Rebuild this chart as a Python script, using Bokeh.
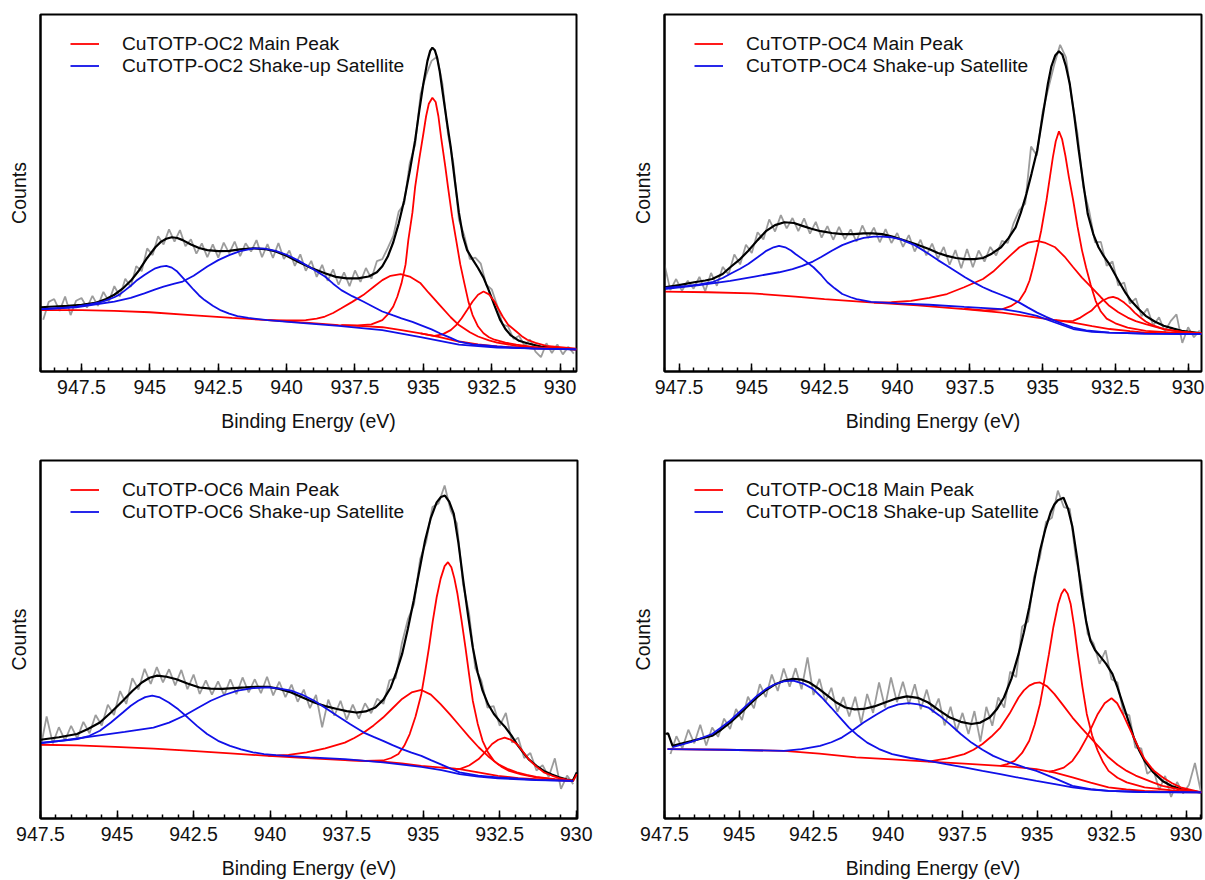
from bokeh.plotting import figure
from bokeh.models import (Range1d, SingleIntervalTicker, NumeralTickFormatter,
                          FixedTicker, Legend, LegendItem)
from bokeh.layouts import gridplot
from bokeh.embed import file_html
from bokeh.resources import INLINE

# ---------------- data (y = relative counts, % of panel height) ----------------
# Panel A: CuTOTP-OC2
A_BG_X = [949.0, 947.5, 946.3, 945.0, 943.5, 942.0, 940.7, 939.3, 938.1, 937.2, 936.5, 935.8, 935.1, 934.4, 933.7, 933.0, 932.3, 931.5, 931.0, 929.4]
A_BG_Y = [17.2, 17.2, 17.0, 16.6, 15.8, 15.0, 14.4, 13.7, 13.0, 12.7, 12.4, 11.6, 10.7, 9.6, 8.4, 7.6, 7.0, 6.7, 6.5, 6.2]
A_R1_X = [938.0, 937.4, 936.9, 936.5, 936.3, 936.1, 935.95, 935.8, 935.65, 935.55, 935.4, 935.3, 935.15, 935.0, 934.9, 934.8, 934.67, 934.55, 934.45, 934.35, 934.2, 934.1, 933.95, 933.8, 933.65, 933.5, 933.35, 933.2, 933.0, 932.8, 932.6, 932.4, 932.0, 931.6, 930.8, 929.4]
A_R1_Y = [13.0, 12.9, 13.2, 14.4, 16.0, 18.2, 21.0, 24.7, 30.0, 36.8, 44.5, 51.7, 59.5, 66.6, 71.5, 75.0, 76.7, 75.5, 71.5, 65.5, 57.5, 51.7, 43.5, 36.8, 30.0, 24.7, 19.5, 15.8, 12.6, 10.7, 9.6, 8.9, 8.1, 7.5, 6.7, 6.2]
A_R2_X = [940.7, 940.0, 939.3, 938.9, 938.6, 938.3, 938.0, 937.6, 937.2, 936.8, 936.5, 936.2, 935.83, 935.5, 935.1, 934.8, 934.4, 934.0, 933.7, 933.3, 933.0, 932.6, 932.3, 931.6, 931.0, 929.4]
A_R2_Y = [14.4, 14.3, 14.4, 14.8, 15.4, 16.4, 17.7, 19.5, 21.4, 23.8, 25.6, 26.8, 27.3, 26.6, 24.7, 22.0, 18.6, 15.2, 13.0, 11.0, 9.8, 8.7, 8.1, 7.2, 6.8, 6.2]
A_R3_X = [935.1, 934.6, 934.3, 934.0, 933.8, 933.6, 933.4, 933.2, 933.0, 932.8, 932.6, 932.4, 932.25, 932.1, 931.9, 931.6, 931.4, 931.2, 930.9, 930.5, 929.4]
A_R3_Y = [10.7, 10.0, 10.4, 11.6, 13.0, 14.9, 17.2, 19.6, 21.5, 22.4, 21.6, 19.6, 17.5, 15.4, 13.1, 11.2, 9.9, 8.9, 8.0, 7.2, 6.4]
A_B1_X = [949.0, 948.2, 947.7, 947.2, 946.8, 946.6, 946.3, 946.1, 945.9, 945.7, 945.5, 945.2, 945.0, 944.8, 944.6, 944.4, 944.2, 944.0, 943.8, 943.6, 943.4, 943.2, 943.0, 942.7, 942.4, 942.1, 941.8, 941.4, 940.7, 939.5, 938.1, 936.5, 935.1, 933.7, 932.3, 929.4]
A_B1_Y = [17.5, 17.8, 18.2, 18.8, 19.4, 19.9, 20.8, 21.6, 22.8, 24.0, 25.4, 27.0, 28.0, 28.9, 29.4, 29.6, 29.1, 28.0, 26.3, 24.6, 22.9, 21.3, 20.0, 18.4, 17.1, 16.2, 15.5, 15.0, 14.4, 13.6, 12.8, 11.6, 9.6, 7.5, 6.7, 6.2]
A_B2_X = [949.0, 947.7, 946.3, 945.7, 945.2, 944.8, 944.5, 944.1, 943.8, 943.4, 942.9, 942.5, 942.1, 941.7, 941.2, 940.8, 940.4, 940.0, 939.6, 939.1, 938.6, 938.3, 938.0, 937.6, 937.2, 936.8, 936.5, 936.1, 935.8, 935.4, 935.1, 934.7, 934.4, 934.0, 933.7, 933.2, 932.3, 931.0, 929.4]
A_B2_Y = [17.4, 18.0, 19.6, 20.6, 21.9, 23.0, 23.8, 24.6, 25.2, 26.8, 29.4, 31.2, 32.6, 33.7, 34.5, 34.4, 33.8, 32.7, 31.2, 29.0, 26.6, 24.6, 22.8, 21.1, 19.6, 18.0, 16.8, 15.7, 14.9, 13.9, 13.0, 11.8, 10.7, 9.4, 8.4, 7.6, 7.0, 6.4, 6.2]
A_ENV_X = [949.0, 948.5, 948.0, 947.5, 947.0, 946.6, 946.3, 946.0, 945.7, 945.4, 945.1, 944.8, 944.6, 944.4, 944.2, 944.0, 943.8, 943.5, 943.2, 942.9, 942.5, 942.1, 941.7, 941.2, 940.8, 940.4, 940.0, 939.6, 939.1, 938.6, 938.2, 937.8, 937.4, 937.0, 936.7, 936.5, 936.3, 936.1, 935.9, 935.7, 935.5, 935.3, 935.15, 935.0, 934.85, 934.75, 934.67, 934.58, 934.5, 934.4, 934.3, 934.15, 934.0, 933.85, 933.7, 933.55, 933.4, 933.2, 933.0, 932.8, 932.6, 932.4, 932.2, 932.0, 931.8, 931.5, 931.2, 930.7, 930.0, 929.4]
A_ENV_Y = [18.0, 18.2, 18.4, 18.7, 19.2, 20.3, 21.5, 23.2, 25.4, 28.3, 31.8, 34.8, 36.3, 37.2, 37.6, 37.4, 36.8, 35.6, 34.6, 34.0, 33.7, 33.8, 34.2, 34.5, 34.3, 33.6, 32.4, 30.8, 29.0, 27.5, 26.5, 26.1, 26.1, 26.6, 27.8, 29.5, 32.2, 36.2, 41.5, 48.0, 56.0, 64.8, 73.0, 80.6, 87.0, 89.8, 90.7, 90.0, 88.0, 84.0, 78.5, 70.5, 62.9, 53.5, 44.5, 37.8, 34.0, 31.4, 29.0, 26.3, 22.6, 18.5, 14.6, 11.9, 10.1, 8.6, 7.9, 7.0, 6.5, 6.2]
A_RAW_START = 948.9
A_RAW_Y = [14.5, 19.5, 20.3, 17.0, 21.0, 15.8, 19.8, 20.6, 17.9, 21.2, 18.4, 22.3, 19.6, 23.9, 21.0, 26.0,
           23.7, 29.5, 28.1, 34.5, 32.6, 37.9, 35.6, 39.8, 36.4, 39.6, 35.1, 37.0, 33.0, 35.9, 32.0, 35.6,
           31.9, 36.1, 33.1, 36.4, 32.3, 35.9, 33.6, 36.8, 32.0, 35.7, 31.8, 36.0, 31.5, 33.9, 29.6, 32.8,
           28.2, 31.0, 26.5, 29.9, 25.4, 28.6, 24.3, 27.8, 23.9, 28.3, 25.1, 29.0, 26.0, 30.9, 31.5, 34.6,
           38.0, 44.8, 47.0, 58.3, 63.5, 77.8, 83.0, 87.0, 88.2, 80.5, 66.5, 58.2, 42.5, 38.0, 31.5, 31.9,
           30.2, 24.3, 23.0, 18.5, 13.2, 12.6, 9.1, 10.0, 7.2, 8.9, 5.6, 4.0, 7.9, 5.2, 7.6, 4.8, 6.9, 5.0]

# Panel B: CuTOTP-OC4
B_BG_X = [948.0, 946.5, 945.0, 943.5, 942.5, 940.8, 939.3, 937.7, 936.4, 935.2, 934.5, 933.95, 933.3, 932.7, 932.0, 931.5, 930.5, 929.54]
B_BG_Y = [22.4, 22.2, 21.9, 21.0, 20.3, 19.3, 18.5, 17.5, 16.5, 15.1, 14.3, 13.7, 12.7, 11.9, 11.3, 10.9, 10.7, 10.7]
B_R1_X = [937.7, 937.0, 936.4, 936.1, 935.81, 935.6, 935.45, 935.33, 935.2, 935.05, 934.87, 934.75, 934.65, 934.55, 934.44, 934.33, 934.22, 934.1, 933.95, 933.8, 933.65, 933.51, 933.35, 933.18, 933.0, 932.8, 932.5, 932.08, 931.46, 930.5, 929.54]
B_R1_Y = [17.6, 17.1, 17.4, 18.3, 19.8, 22.5, 25.5, 29.2, 33.8, 39.5, 47.9, 54.5, 60.0, 64.5, 67.3, 65.0, 60.5, 54.5, 47.9, 40.5, 34.0, 29.2, 24.3, 19.8, 16.8, 14.8, 13.5, 12.3, 11.4, 10.9, 10.7]
B_R2_X = [940.8, 940.2, 939.53, 938.9, 938.29, 937.7, 937.05, 936.7, 936.43, 936.1, 935.8, 935.5, 935.19, 934.9, 934.57, 934.25, 933.95, 933.65, 933.33, 933.0, 932.71, 932.4, 932.08, 931.8, 931.46, 930.84, 930.2, 929.54]
B_R2_Y = [19.3, 19.4, 19.8, 20.6, 21.7, 23.6, 25.9, 28.0, 30.1, 32.6, 34.8, 36.1, 36.6, 36.0, 34.8, 32.2, 29.2, 26.3, 23.6, 20.8, 18.4, 16.6, 15.1, 14.1, 13.3, 11.9, 11.1, 10.7]
B_R3_X = [934.57, 934.2, 933.95, 933.7, 933.5, 933.33, 933.15, 932.95, 932.75, 932.58, 932.4, 932.2, 932.0, 931.84, 931.65, 931.46, 931.2, 930.84, 930.5, 930.22, 929.54]
B_R3_Y = [14.4, 14.1, 14.2, 15.1, 16.2, 17.0, 18.5, 19.8, 20.6, 20.9, 20.4, 19.3, 17.9, 16.5, 15.2, 14.0, 12.9, 11.9, 11.4, 11.1, 10.7]
B_B1_X = [948.0, 947.2, 946.8, 946.36, 946.0, 945.7, 945.4, 945.12, 944.8, 944.5, 944.25, 944.06, 943.85, 943.65, 943.5, 943.2, 942.88, 942.6, 942.4, 942.15, 941.89, 941.6, 941.4, 940.9, 940.0, 938.9, 937.7, 936.4, 935.8, 935.2, 934.6, 933.95, 933.3, 932.71, 931.5, 929.54]
B_B1_Y = [23.4, 24.0, 24.4, 25.0, 26.2, 27.5, 28.8, 30.1, 32.0, 33.8, 34.8, 35.2, 34.8, 33.9, 32.9, 31.2, 29.2, 26.9, 25.0, 23.3, 21.7, 20.8, 20.3, 19.5, 19.1, 18.7, 18.1, 17.5, 16.7, 15.6, 13.8, 11.9, 11.1, 10.9, 10.6, 10.5]
B_B2_X = [948.0, 946.8, 945.74, 944.9, 944.06, 943.6, 943.26, 942.9, 942.63, 942.25, 941.89, 941.5, 941.15, 940.8, 940.52, 940.2, 939.9, 939.4, 938.91, 938.6, 938.29, 937.98, 937.67, 937.35, 937.05, 936.75, 936.43, 936.1, 935.8, 935.5, 935.19, 934.88, 934.57, 934.25, 933.95, 933.5, 932.71, 931.5, 929.54]
B_B2_Y = [23.1, 24.2, 25.4, 26.6, 27.8, 28.7, 29.6, 30.8, 32.0, 33.8, 35.4, 36.6, 37.4, 37.8, 37.8, 37.6, 37.1, 35.4, 32.9, 31.2, 29.6, 28.0, 26.4, 24.9, 23.6, 22.5, 21.5, 20.4, 19.3, 17.9, 16.5, 15.3, 14.2, 13.2, 12.3, 11.5, 10.9, 10.6, 10.5]
B_ENV_X = [948.0, 947.5, 946.98, 946.6, 946.36, 946.0, 945.74, 945.4, 945.12, 944.8, 944.5, 944.2, 943.88, 943.55, 943.26, 942.95, 942.63, 942.25, 941.89, 941.5, 941.15, 940.85, 940.52, 940.2, 939.9, 939.4, 938.91, 938.6, 938.29, 937.98, 937.67, 937.35, 937.05, 936.75, 936.43, 936.18, 935.93, 935.75, 935.56, 935.38, 935.19, 935.0, 934.82, 934.7, 934.57, 934.44, 934.32, 934.2, 934.07, 933.92, 933.76, 933.6, 933.45, 933.26, 933.08, 932.9, 932.71, 932.52, 932.33, 932.15, 931.96, 931.7, 931.46, 931.15, 930.84, 930.5, 930.22, 929.54]
B_ENV_Y = [23.6, 24.2, 25.0, 25.5, 25.9, 27.3, 29.2, 31.5, 33.8, 36.8, 39.4, 41.0, 41.8, 41.6, 40.8, 40.0, 39.3, 38.8, 38.5, 38.5, 38.7, 38.7, 38.5, 37.9, 37.1, 35.8, 34.3, 33.2, 32.4, 31.8, 31.5, 31.5, 31.8, 33.0, 34.8, 37.3, 40.4, 44.5, 49.7, 55.5, 61.9, 71.5, 80.6, 85.5, 88.5, 89.7, 88.7, 85.5, 80.6, 72.0, 61.9, 52.5, 44.1, 38.5, 34.8, 32.3, 30.1, 27.3, 24.5, 22.0, 19.8, 17.5, 15.6, 14.0, 12.8, 12.0, 11.4, 10.7]
B_RAW_START = 948.0
B_RAW_Y = [30.0, 22.8, 25.9, 22.6, 25.4, 23.2, 26.5, 22.5, 27.6, 24.0, 29.3, 27.2, 32.8, 30.0, 35.5, 33.2,
           39.0, 37.0, 42.6, 39.2, 43.8, 40.1, 43.0, 39.3, 42.9, 38.6, 41.9, 37.5, 40.7, 36.9, 40.5, 37.0,
           39.8, 36.4, 40.9, 37.4, 40.3, 36.2, 39.9, 36.0, 38.8, 34.9, 38.2, 33.6, 36.9, 32.5, 35.8, 31.6,
           34.9, 29.9, 34.0, 28.9, 34.3, 29.2, 33.9, 30.8, 34.9, 32.5, 36.6, 36.0, 41.5, 45.2, 47.0, 63.0,
           60.5, 72.8, 79.5, 86.0, 91.5, 88.0, 76.5, 66.5, 51.5, 44.9, 36.2, 36.3, 29.6, 30.8, 24.1, 24.9,
           19.0, 20.5, 15.5, 17.6, 12.9, 15.2, 11.2, 14.1, 16.0, 8.0, 12.4, 9.6, 11.5]

# Panel C: CuTOTP-OC6
C_BG_X = [947.5, 946.3, 945.06, 943.8, 942.56, 941.3, 940.06, 938.8, 937.56, 936.31, 935.7, 935.06, 934.4, 933.81, 933.2, 932.56, 931.9, 931.31, 930.7, 930.1, 929.98]
C_BG_Y = [20.6, 20.4, 20.0, 19.5, 18.9, 18.2, 17.5, 16.9, 16.3, 15.9, 15.4, 14.7, 14.2, 13.8, 12.9, 11.9, 11.3, 11.0, 10.7, 10.5, 12.4]
C_R1_X = [937.56, 936.9, 936.31, 936.05, 935.81, 935.62, 935.44, 935.25, 935.06, 934.94, 934.81, 934.69, 934.56, 934.43, 934.3, 934.19, 934.08, 933.98, 933.88, 933.75, 933.62, 933.5, 933.38, 933.22, 933.06, 932.88, 932.69, 932.45, 932.19, 931.8, 931.31, 930.7, 930.1]
C_R1_Y = [16.3, 16.1, 16.2, 16.9, 18.0, 20.3, 23.6, 28.5, 34.8, 40.8, 47.8, 55.0, 61.8, 67.0, 70.5, 71.6, 70.2, 67.0, 62.7, 55.5, 47.8, 40.2, 32.9, 26.5, 21.7, 18.4, 16.1, 14.5, 13.3, 12.3, 11.5, 10.9, 10.5]
C_R2_X = [940.06, 939.4, 938.81, 938.2, 937.56, 937.25, 936.94, 936.62, 936.31, 936.0, 935.69, 935.38, 935.06, 934.75, 934.44, 934.12, 933.81, 933.5, 933.19, 932.88, 932.56, 932.25, 931.94, 931.62, 931.31, 930.7, 930.1]
C_R2_Y = [17.5, 17.8, 18.5, 19.6, 21.2, 22.5, 24.0, 26.0, 28.2, 30.8, 33.4, 35.2, 35.9, 34.6, 32.0, 29.0, 25.9, 22.8, 19.9, 17.4, 15.2, 13.9, 12.9, 12.2, 11.6, 11.0, 10.5]
C_R3_X = [934.4, 934.1, 933.81, 933.5, 933.19, 932.97, 932.75, 932.55, 932.34, 932.14, 931.94, 931.75, 931.56, 931.3, 931.06, 930.8, 930.56, 930.1]
C_R3_Y = [14.3, 14.0, 13.8, 14.8, 16.6, 18.6, 20.8, 22.0, 22.6, 22.0, 20.8, 18.8, 16.6, 14.5, 12.9, 12.0, 11.3, 10.5]
C_B1_X = [947.5, 946.9, 946.3, 945.9, 945.56, 945.2, 944.81, 944.55, 944.31, 944.08, 943.85, 943.6, 943.31, 943.0, 942.69, 942.38, 942.06, 941.7, 941.31, 940.95, 940.56, 940.2, 939.81, 938.7, 937.56, 936.31, 935.06, 934.4, 933.81, 933.2, 932.56, 931.31, 930.1]
C_B1_Y = [21.2, 21.6, 22.2, 23.1, 24.5, 26.8, 29.6, 31.5, 32.9, 33.9, 34.3, 33.8, 32.4, 30.5, 28.2, 25.8, 23.6, 21.7, 20.3, 19.3, 18.5, 18.0, 17.7, 17.1, 16.6, 15.7, 14.4, 13.5, 12.4, 11.7, 11.2, 10.7, 10.5]
C_B2_X = [947.5, 946.6, 945.69, 944.75, 943.81, 943.3, 942.81, 942.38, 941.94, 941.5, 941.06, 940.56, 940.06, 939.68, 939.31, 938.93, 938.56, 938.18, 937.81, 937.38, 936.94, 936.62, 936.31, 936.0, 935.69, 935.38, 935.06, 934.75, 934.44, 934.12, 933.81, 933.2, 932.56, 931.31, 930.1]
C_B2_Y = [21.0, 22.0, 23.1, 24.2, 25.4, 26.8, 28.7, 30.8, 32.9, 34.5, 35.7, 36.4, 36.6, 36.3, 35.7, 34.5, 32.9, 30.8, 28.7, 26.3, 24.0, 22.8, 21.7, 20.5, 19.4, 18.4, 17.5, 16.3, 15.2, 14.0, 12.9, 12.0, 11.5, 10.8, 10.5]
C_ENV_X = [947.5, 946.9, 946.31, 945.95, 945.56, 945.2, 944.81, 944.5, 944.19, 943.94, 943.69, 943.38, 943.06, 942.7, 942.31, 941.94, 941.56, 941.2, 940.81, 940.45, 940.06, 939.7, 939.31, 938.94, 938.56, 938.2, 937.81, 937.5, 937.19, 936.88, 936.56, 936.3, 936.06, 935.88, 935.69, 935.5, 935.31, 935.12, 934.94, 934.75, 934.56, 934.42, 934.29, 934.15, 934.0, 933.85, 933.69, 933.53, 933.38, 933.22, 933.06, 932.88, 932.69, 932.5, 932.31, 932.12, 931.94, 931.75, 931.56, 931.3, 931.06, 930.8, 930.56, 930.3, 930.12, 929.98]
C_ENV_Y = [22.0, 22.7, 23.6, 25.0, 26.8, 29.6, 32.9, 35.6, 38.0, 39.3, 39.9, 39.6, 38.9, 37.7, 36.6, 36.3, 36.2, 36.4, 36.6, 36.8, 36.8, 36.2, 35.2, 33.8, 32.4, 31.4, 30.6, 30.0, 29.6, 29.9, 31.0, 33.2, 36.6, 40.8, 45.9, 53.0, 60.9, 69.5, 77.6, 84.0, 88.3, 89.8, 90.2, 88.5, 85.1, 77.0, 66.4, 56.5, 47.8, 40.8, 35.7, 31.9, 29.2, 27.2, 25.4, 23.2, 20.8, 18.6, 16.6, 14.7, 13.3, 12.3, 11.5, 10.9, 10.5, 12.9]
C_RAW_START = 947.5
C_RAW_Y = [19.5, 28.5, 21.0, 25.5, 21.8, 25.9, 22.4, 27.0, 23.8, 28.9, 26.0, 31.8, 28.9, 35.6, 32.0, 39.2,
           36.0, 41.8, 37.6, 42.3, 38.0, 41.7, 37.2, 41.5, 36.1, 40.2, 34.8, 38.6, 34.6, 38.3, 34.4, 38.9,
           34.7, 39.4, 35.2, 38.9, 35.0, 39.6, 34.4, 38.2, 33.9, 37.4, 32.6, 36.0, 30.8, 34.5, 25.5, 33.2,
           28.7, 32.9, 27.6, 31.8, 27.9, 32.2, 29.4, 33.5, 32.0, 38.6, 39.2, 48.8, 55.6, 59.8, 72.5, 77.4,
           87.0, 88.0, 93.0, 86.0, 82.4, 65.5, 57.2, 42.0, 38.5, 31.0, 31.4, 25.9, 29.5, 21.2, 22.6, 16.9,
           18.3, 13.4, 14.9, 11.6, 16.8, 8.3, 12.0, 9.6]

# Panel D: CuTOTP-OC18
D_BG_X = [947.4, 945.5, 943.49, 942.3, 941.07, 939.85, 938.65, 937.44, 936.23, 935.6, 935.02, 934.4, 933.81, 933.2, 932.6, 932.0, 931.39, 930.4, 929.48]
D_BG_Y = [19.4, 19.2, 18.9, 18.1, 17.1, 16.5, 15.9, 15.3, 14.7, 14.3, 13.8, 12.8, 11.5, 10.0, 8.7, 8.1, 7.7, 7.4, 7.3]
D_R1_X = [936.23, 936.0, 935.75, 935.5, 935.26, 935.08, 934.9, 934.75, 934.6, 934.45, 934.29, 934.18, 934.08, 933.97, 933.87, 933.75, 933.63, 933.48, 933.33, 933.15, 932.96, 932.78, 932.6, 932.3, 931.99, 931.39, 930.4, 929.48]
D_R1_Y = [14.7, 15.2, 16.1, 18.3, 21.7, 26.2, 32.0, 38.8, 45.9, 53.5, 59.9, 62.8, 64.1, 62.8, 59.9, 53.5, 45.9, 37.0, 29.2, 23.2, 18.9, 15.7, 13.3, 11.4, 10.1, 8.7, 7.8, 7.3]
D_R2_X = [938.65, 938.0, 937.44, 937.13, 936.83, 936.53, 936.23, 935.92, 935.62, 935.44, 935.26, 935.08, 934.9, 934.66, 934.42, 934.12, 933.81, 933.51, 933.21, 932.9, 932.6, 932.3, 931.99, 931.69, 931.39, 931.09, 930.79, 930.2, 929.48]
D_R2_Y = [15.9, 16.8, 18.0, 19.2, 20.8, 22.9, 25.4, 29.3, 33.8, 35.8, 37.1, 37.8, 38.0, 36.9, 34.8, 31.6, 28.2, 25.3, 22.6, 19.8, 17.1, 15.0, 13.3, 12.0, 11.0, 10.0, 9.1, 8.1, 7.3]
D_R3_X = [934.6, 934.42, 934.1, 933.81, 933.57, 933.33, 933.14, 932.96, 932.73, 932.5, 932.31, 932.12, 931.93, 931.75, 931.57, 931.39, 931.1, 930.79, 930.48, 930.18, 929.48]
D_R3_Y = [13.1, 13.4, 14.2, 16.1, 19.0, 22.6, 26.0, 29.2, 32.2, 33.6, 32.2, 29.2, 25.8, 22.6, 19.4, 16.6, 13.5, 11.5, 9.9, 8.7, 7.3]
D_B1_X = [947.23, 946.6, 945.9, 945.6, 945.3, 945.0, 944.69, 944.39, 944.09, 943.8, 943.5, 943.18, 942.85, 942.52, 942.22, 941.91, 941.61, 941.31, 941.0, 940.7, 940.3, 939.86, 939.25, 938.65, 938.05, 937.44, 936.83, 936.23, 935.62, 935.02, 934.4, 933.81, 933.2, 932.6, 931.5, 929.48]
D_B1_Y = [19.9, 21.4, 23.6, 25.4, 27.3, 29.6, 32.0, 34.3, 36.2, 37.5, 38.3, 38.5, 37.7, 36.2, 33.8, 31.0, 28.2, 25.4, 23.1, 21.2, 19.4, 18.0, 16.9, 16.1, 15.2, 14.3, 13.3, 12.4, 11.4, 10.5, 9.6, 8.7, 8.1, 7.7, 7.4, 7.3]
D_B2_X = [947.4, 945.5, 943.49, 942.9, 942.28, 941.9, 941.55, 941.2, 940.82, 940.4, 939.98, 939.65, 939.31, 938.98, 938.65, 938.28, 937.92, 937.56, 937.2, 936.83, 936.47, 936.1, 935.75, 935.4, 935.02, 934.4, 933.81, 933.2, 932.6, 931.5, 929.48]
D_B2_Y = [19.4, 19.2, 18.9, 19.4, 20.3, 21.3, 22.6, 24.5, 26.8, 29.0, 31.0, 31.9, 32.2, 31.9, 31.0, 28.8, 26.3, 23.6, 21.2, 19.2, 17.5, 16.2, 15.2, 14.2, 13.3, 11.2, 9.1, 8.2, 7.7, 7.4, 7.3]
D_ENV_X = [947.47, 947.38, 947.23, 946.6, 945.9, 945.6, 945.3, 945.0, 944.69, 944.39, 944.09, 943.8, 943.49, 943.18, 942.9, 942.64, 942.33, 942.03, 941.73, 941.43, 941.12, 940.82, 940.46, 940.1, 939.73, 939.37, 939.0, 938.65, 938.28, 937.92, 937.56, 937.2, 936.9, 936.59, 936.35, 936.11, 935.86, 935.62, 935.44, 935.26, 935.08, 934.9, 934.72, 934.54, 934.42, 934.3, 934.11, 933.96, 933.81, 933.65, 933.5, 933.35, 933.21, 933.05, 932.9, 932.68, 932.47, 932.3, 932.12, 931.93, 931.75, 931.57, 931.39, 931.1, 930.79, 930.48, 930.18, 929.8, 929.48]
D_ENV_Y = [23.6, 23.8, 20.3, 21.6, 23.1, 24.8, 26.8, 29.0, 31.5, 33.9, 35.9, 37.4, 38.5, 39.0, 38.8, 38.0, 36.3, 34.3, 32.4, 31.0, 30.5, 30.6, 31.3, 32.4, 33.5, 34.1, 33.7, 32.4, 30.2, 28.2, 27.0, 26.4, 26.8, 28.2, 30.5, 33.8, 39.0, 45.9, 52.0, 59.0, 67.0, 74.8, 80.8, 85.6, 87.7, 88.9, 89.6, 86.5, 81.4, 72.5, 62.7, 55.0, 49.7, 47.0, 45.5, 43.2, 40.4, 36.6, 32.0, 27.2, 22.6, 19.0, 16.1, 12.9, 10.5, 9.1, 8.2, 7.6, 7.3]
D_RAW_START = 947.3
D_RAW_Y = [18.0, 23.0, 19.6, 24.8, 21.0, 26.2, 20.4, 25.4, 22.8, 27.9, 25.0, 30.6, 27.5, 34.0, 30.8, 37.5,
           33.9, 40.2, 35.6, 41.9, 36.8, 42.0, 36.1, 45.0, 34.5, 39.0, 32.6, 36.5, 29.8, 33.9, 28.5, 34.0,
           26.6, 34.8, 29.5, 38.0, 31.0, 39.4, 32.5, 38.2, 31.9, 37.5, 30.5, 36.0, 29.6, 33.5, 26.0, 31.2,
           24.4, 29.5, 23.6, 30.0, 21.5, 31.2, 25.9, 33.8, 31.0, 41.0, 39.5, 53.6, 55.0, 67.5, 73.0, 82.8,
           84.0, 91.6, 87.0, 86.5, 73.0, 65.0, 51.5, 48.8, 43.2, 47.0, 38.9, 38.0, 29.5, 28.8, 19.8, 19.6,
           12.5, 13.8, 8.0, 11.9, 6.0, 10.2, 7.0, 9.4, 15.5, 7.4]

RAW_STEP = 0.2
SAMPLES = ["OC2", "OC4", "OC6", "OC18"]
X_RANGES = [(949.0, 929.4), (948.0, 929.54), (947.5, 929.96), (947.5, 929.48)]

FONT = "Liberation Sans"
RED = "#ff0000"
BLUE = "#1010e8"
GRAY = "#9c9c9c"


def make_panel(sample, xr, bg, reds, blues, env, raw_start, raw_y,
               fw, fh, bl, br, bt, bb):
    p = figure(frame_width=fw, frame_height=fh,
               x_range=Range1d(xr[0], xr[1]), y_range=Range1d(0, 100),
               min_border_left=bl, min_border_right=br,
               min_border_top=bt, min_border_bottom=bb,
               output_backend="svg", toolbar_location=None)
    p.xgrid.visible = False
    p.ygrid.visible = False
    p.outline_line_color = "black"
    p.outline_line_width = 2
    p.outline_line_alpha = 1.0

    raw_x = [raw_start - RAW_STEP * i for i in range(len(raw_y))]
    p.line(raw_x, raw_y, line_color=GRAY, line_width=1.8)
    p.line(env[0], env[1], line_color="black", line_width=2.2)
    r_red = p.line(bg[0], bg[1], line_color=RED, line_width=1.8)
    for xs, ys in reds:
        p.line(xs, ys, line_color=RED, line_width=1.8)
    r_blue = None
    for xs, ys in blues:
        rb = p.line(xs, ys, line_color=BLUE, line_width=1.8)
        if r_blue is None:
            r_blue = rb

    xa = p.xaxis[0]
    xa.ticker = SingleIntervalTicker(interval=2.5, num_minor_ticks=5)
    xa.formatter = NumeralTickFormatter(format="0.[0]")
    xa.axis_label = "Binding Energy (eV)"
    xa.axis_label_text_font = FONT
    xa.axis_label_text_font_size = "19.5px"
    xa.axis_label_text_font_style = "normal"
    xa.axis_label_text_color = "#111111"
    xa.axis_label_standoff = 13
    xa.major_label_text_font = FONT
    xa.major_label_text_font_size = "19.5px"
    xa.major_label_text_color = "#111111"
    xa.major_label_standoff = 8
    xa.major_tick_in = 8
    xa.major_tick_out = 0
    xa.minor_tick_in = 4
    xa.minor_tick_out = 0
    xa.major_tick_line_width = 1.5
    xa.minor_tick_line_width = 1.5
    xa.axis_line_width = 2

    ya = p.yaxis[0]
    ya.ticker = FixedTicker(ticks=[])
    ya.axis_label = "Counts"
    ya.axis_label_text_font = FONT
    ya.axis_label_text_font_size = "19.5px"
    ya.axis_label_text_font_style = "normal"
    ya.axis_label_text_color = "#111111"
    ya.axis_label_standoff = 11
    ya.major_tick_out = 0
    ya.major_tick_in = 0
    ya.minor_tick_out = 0
    ya.minor_tick_in = 0
    ya.major_label_standoff = 0
    ya.axis_line_width = 2

    item_h = 21
    legend = Legend(items=[
        LegendItem(label=f"CuTOTP-{sample} Main Peak", renderers=[r_red]),
        LegendItem(label=f"CuTOTP-{sample} Shake-up Satellite", renderers=[r_blue]),
    ], location=(30, fh - 20.5 - 2 * item_h))
    legend.padding = 0
    legend.margin = 0
    legend.spacing = 0
    legend.glyph_width = 29
    legend.glyph_height = item_h
    legend.label_height = item_h
    legend.label_standoff = 23
    legend.label_text_font = FONT
    legend.label_text_font_size = "19.2px"
    legend.label_text_color = "#111111"
    legend.border_line_alpha = 0
    legend.background_fill_alpha = 0
    p.add_layout(legend)
    return p


pA = make_panel(SAMPLES[0], X_RANGES[0], (A_BG_X, A_BG_Y),
                [(A_R1_X, A_R1_Y), (A_R2_X, A_R2_Y), (A_R3_X, A_R3_Y)],
                [(A_B1_X, A_B1_Y), (A_B2_X, A_B2_Y)], (A_ENV_X, A_ENV_Y),
                A_RAW_START, A_RAW_Y, 536, 357, 40, 27, 14, 69)
pB = make_panel(SAMPLES[1], X_RANGES[1], (B_BG_X, B_BG_Y),
                [(B_R1_X, B_R1_Y), (B_R2_X, B_R2_Y), (B_R3_X, B_R3_Y)],
                [(B_B1_X, B_B1_Y), (B_B2_X, B_B2_Y)], (B_ENV_X, B_ENV_Y),
                B_RAW_START, B_RAW_Y, 537, 357, 61, 4, 14, 69)
pC = make_panel(SAMPLES[2], X_RANGES[2], (C_BG_X, C_BG_Y),
                [(C_R1_X, C_R1_Y), (C_R2_X, C_R2_Y), (C_R3_X, C_R3_Y)],
                [(C_B1_X, C_B1_Y), (C_B2_X, C_B2_Y)], (C_ENV_X, C_ENV_Y),
                C_RAW_START, C_RAW_Y, 537, 358, 40, 26, 20, 62)
pD = make_panel(SAMPLES[3], X_RANGES[3], (D_BG_X, D_BG_Y),
                [(D_R1_X, D_R1_Y), (D_R2_X, D_R2_Y), (D_R3_X, D_R3_Y)],
                [(D_B1_X, D_B1_Y), (D_B2_X, D_B2_Y)], (D_ENV_X, D_ENV_Y),
                D_RAW_START, D_RAW_Y, 537, 358, 61, 4, 20, 62)

layout = gridplot([[pA, pB], [pC, pD]], toolbar_location=None)

with open("out.html", "w") as f:
    f.write(file_html(layout, INLINE))
